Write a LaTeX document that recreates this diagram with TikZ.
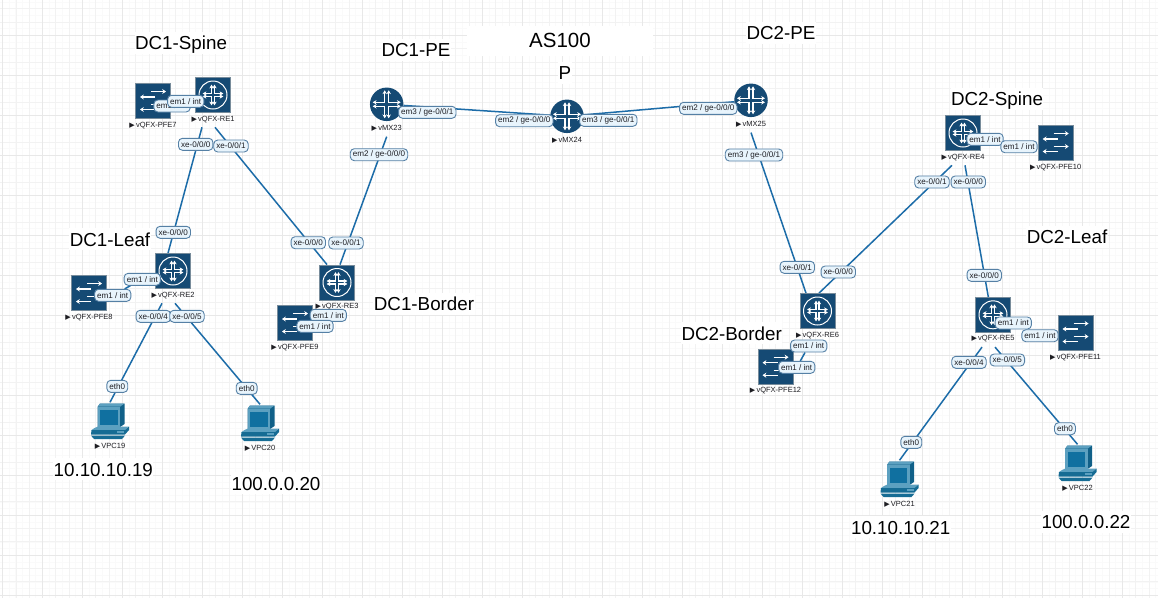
\documentclass[tikz,border=0pt]{standalone}
\usepackage{fontspec}
\setmainfont{Liberation Sans}
\newfontfamily\symbolfont{DejaVu Sans}
\usepackage{tikz}
\usetikzlibrary{
    arrows.meta,
    positioning,
    backgrounds
}
\pgfdeclarelayer{links}
\pgfsetlayers{background,links,main}
\definecolor{ink}{RGB}{30,30,35}
\definecolor{junos}{RGB}{21,74,116}
\definecolor{junosedge}{RGB}{120,140,155}
\definecolor{wire}{RGB}{28,108,168}
\definecolor{tagfill}{RGB}{232,244,252}
\definecolor{tagedge}{RGB}{85,128,165}
\definecolor{pcbody}{RGB}{22,108,148}
\definecolor{pcdark}{RGB}{16,96,136}
\definecolor{pcscreen}{RGB}{16,112,160}
\definecolor{pcframe}{RGB}{92,160,192}
\definecolor{gridlow}{RGB}{250,250,250}
\definecolor{gridmid}{RGB}{242,242,242}
\definecolor{gridtop}{RGB}{232,232,232}
\newcommand{\runmark}{{\symbolfont\fontsize{7}{8}\selectfont\char"25B6}\,}
\tikzset{
    % four elbows with a tip on both ends, used on all router icons
    crossglyph/.pic={
        \foreach \r in {0,90,180,270}
            \draw[rotate=\r, white, line width=1.2pt, {Stealth[length=3.8pt,width=4.4pt]}-{Stealth[length=3.8pt,width=4.4pt]}]
                (14,2) -- (2,2) -- (2,14);
    },
    switchglyph/.pic={
        \draw[white, line width=1.2pt, -{Stealth[length=3.8pt,width=5pt]}] (-2,-9.5) -- (13,-9.5);
        \draw[white, line width=1.2pt, -{Stealth[length=3.8pt,width=5pt]}] (2,-4) -- (-13,-4);
        \draw[white, line width=1.2pt, -{Stealth[length=3.8pt,width=5pt]}] (-2,3.5) -- (13,3.5);
        \draw[white, line width=1.2pt, -{Stealth[length=3.8pt,width=5pt]}] (2,8.5) -- (-13,8.5);
    },
    pcglyph/.pic={
        \fill[pcdark] (-12.3,-14.3) -- (-10,-17.5) -- (14.5,-17.5) -- (14.5,3) -- (10,6) -- (-12.3,6) -- cycle;
        \fill[pcframe] (-12.3,-14.3) -- (-10,-17.5) -- (14.5,-17.5) -- (10,-14.3) -- cycle;
        \fill[pcframe] (-12.3,-14.3) rectangle (10,6);
        \fill[pcscreen] (-10,-11.5) rectangle (7.5,3.5);
        \fill[pcframe] (-15.5,7) -- (-12,5.5) -- (18.5,5.5) -- (15,9) -- (-18.5,9) -- cycle;
        \fill[pcbody] (-18.5,9) -- (15,9) -- (19,5.5) -- (19,9) -- (15,13.5) -- (-19,13.5) -- cycle;
        \fill[pcframe] (7,10.2) rectangle (14,11.6);
        \fill[pcbody] (-19,14.6) -- (15,14.6) -- (12,18) -- (-16,18) -- cycle;
    },
    qfxrouter/.style={
        rectangle,
        draw=junosedge,
        line width=0.8pt,
        fill=junos,
        minimum size=35pt,
        inner sep=0pt,
        path picture={
            \draw[white, line width=1pt] (path picture bounding box.center) circle (14);
            \pic[scale=0.74] at (path picture bounding box.center) {crossglyph};
        }
    },
    qfxswitch/.style={
        rectangle,
        draw=junosedge,
        line width=0.8pt,
        fill=junos,
        minimum size=35pt,
        inner sep=0pt,
        path picture={
            \pic at (path picture bounding box.center) {switchglyph};
        }
    },
    mxrouter/.style={
        circle,
        fill=junos,
        minimum size=33.5pt,
        inner sep=0pt,
        path picture={
            \pic at (path picture bounding box.center) {crossglyph};
        }
    },
    vpcbox/.style={
        rectangle,
        minimum width=39pt,
        minimum height=37pt,
        inner sep=0pt,
        path picture={
            \pic at (path picture bounding box.center) {pcglyph};
        }
    },
    devname/.style={
        font=\fontsize{7.5}{9}\selectfont,
        text=ink,
        minimum height=16pt,
        inner sep=0pt
    },
    iftag/.style={
        rectangle,
        rounded corners=4pt,
        draw=tagedge,
        line width=0.9pt,
        fill=tagfill,
        text=ink,
        font=\fontsize{8.1}{9}\selectfont,
        minimum height=12pt,
        inner xsep=2.6pt,
        inner ysep=0pt
    },
    note/.style={
        font=\fontsize{18.8}{21}\selectfont,
        text=black,
        fill=white,
        text height=13.5pt,
        text depth=0pt,
        minimum height=22pt,
        inner sep=0.5pt
    },
    link/.style={
        draw=wire,
        line width=1.5pt
    }
}
\begin{document}
\begin{tikzpicture}[x=1pt, y=-1pt]
\useasboundingbox (0,0) rectangle (1158,598);

% Editor grid, three weights
\begin{pgfonlayer}{background}
    \fill[white] (0,0) rectangle (1158,598);
    \foreach \x in {2.667,9.333,...,1158} \draw[gridlow, line width=1pt] (\x,0) -- (\x,598);
    \foreach \y in {2,8.667,...,598} \draw[gridlow, line width=1pt] (0,\y) -- (1158,\y);
    \foreach \x in {2.667,16,...,1158} \draw[gridmid, line width=1pt] (\x,0) -- (\x,598);
    \foreach \y in {8.667,22,...,598} \draw[gridmid, line width=1pt] (0,\y) -- (1158,\y);
    \foreach \x in {2.667,42.667,...,1158} \draw[gridtop, line width=1pt] (\x,0) -- (\x,598);
    \foreach \y in {35.333,75.333,...,598} \draw[gridtop, line width=1pt] (0,\y) -- (1158,\y);
\end{pgfonlayer}

% Text notes
\node[note] (dc1spine) at (181,43) {DC1-Spine};
\node[note] (dc1pe) at (416,49.5) {DC1-PE};
\node[note, minimum width=186pt, minimum height=30pt, font=\fontsize{20.5}{22}\selectfont] (as100) at (560,41) {AS100};
\node[note] (pnote) at (565,72.7) {P};
\node[note] (dc2pe) at (781,33) {DC2-PE};
\node[note] (dc2spine) at (997,99) {DC2-Spine};
\node[note] (dc1leaf) at (110,239.3) {DC1-Leaf};
\node[note] (dc2leaf) at (1067,237) {DC2-Leaf};
\node[note] (dc1border) at (424,304) {DC1-Border};
\node[note] (dc2border) at (731.7,333.3) {DC2-Border};
\node[note] (ip19) at (103.3,469.3) {10.10.10.19};
\node[note] (ip20) at (276,483.3) {100.0.0.20};
\node[note] (ip21) at (900.7,527.3) {10.10.10.21};
\node[note] (ip22) at (1086,521.7) {100.0.0.22};

% Devices
\node[qfxswitch] (pfe7) at (153,101) {};
\node[qfxrouter] (re1) at (213,95) {};
\node[qfxrouter] (re2) at (173,271) {};
\node[qfxswitch] (pfe8) at (89,293) {};
\node[qfxrouter] (re3) at (337,282.5) {};
\node[devname, below=-2pt of re3] (re3name) {\runmark vQFX-RE3};
\node[qfxswitch] (pfe9) at (295,323) {};
\node[mxrouter] (mx23) at (386.7,104.3) {};
\node[mxrouter] (mx24) at (567,116.3) {};
\node[mxrouter] (mx25) at (751,100.3) {};
\node[qfxrouter] (re4) at (963,133) {};
\node[qfxswitch] (pfe10) at (1055.7,143) {};
\node[qfxrouter] (re6) at (817.5,311) {};
\node[qfxswitch] (pfe12) at (775.5,366.7) {};
\node[qfxrouter] (re5) at (993,314.8) {};
\node[qfxswitch] (pfe11) at (1075.5,333) {};
\node[vpcbox] (vpc19) at (110,421) {};
\node[vpcbox] (vpc20) at (260,423) {};
\node[vpcbox] (vpc21) at (899.5,479) {};
\node[vpcbox] (vpc22) at (1077.5,463) {};

% Device names
\node[devname, below=-2pt of pfe7] (pfe7name) {\runmark vQFX-PFE7};
\node[devname, below=-2pt of re1] (re1name) {\runmark vQFX-RE1};
\node[devname, below=-2pt of re2] (re2name) {\runmark vQFX-RE2};
\node[devname, below=-2pt of pfe8] (pfe8name) {\runmark vQFX-PFE8};
\node[devname, below=-2pt of pfe9] (pfe9name) {\runmark vQFX-PFE9};
\node[devname, below=-1pt of mx23] (mx23name) {\runmark vMX23};
\node[devname, below=-1pt of mx24] (mx24name) {\runmark vMX24};
\node[devname, below=-1pt of mx25] (mx25name) {\runmark vMX25};
\node[devname, below=-2pt of re4] (re4name) {\runmark vQFX-RE4};
\node[devname, below=-2pt of pfe10] (pfe10name) {\runmark vQFX-PFE10};
\node[devname, below=-2pt of re6] (re6name) {\runmark vQFX-RE6};
\node[devname, below=-2pt of pfe12] (pfe12name) {\runmark vQFX-PFE12};
\node[devname, below=-2pt of re5] (re5name) {\runmark vQFX-RE5};
\node[devname, below=-2pt of pfe11] (pfe11name) {\runmark vQFX-PFE11};
\node[devname, below=-1.5pt of vpc19] (vpc19name) {\runmark VPC19};
\node[devname, below=-1.5pt of vpc20] (vpc20name) {\runmark VPC20};
\node[devname, below=-1.5pt of vpc21] (vpc21name) {\runmark VPC21};
\node[devname, below=-1.5pt of vpc22] (vpc22name) {\runmark VPC22};

% Interface tags
\node[iftag] (pfe7em) at (172,106) {em1 / int};
\node[iftag] (re1em) at (185.7,101.3) {em1 / int};
\node[iftag] (re1xe0) at (195.7,144.3) {xe-0/0/0};
\node[iftag] (re1xe1) at (231,146) {xe-0/0/1};
\node[iftag] (re2xe0) at (173.3,232.3) {xe-0/0/0};
\node[iftag] (re2em) at (142.3,279.3) {em1 / int};
\node[iftag] (pfe8em) at (112.7,295.3) {em1 / int};
\node[iftag] (re2xe4) at (153.3,316.3) {xe-0/0/4};
\node[iftag] (re2xe5) at (187,316.3) {xe-0/0/5};
\node[iftag] (vpc19eth) at (117.3,386.3) {eth0};
\node[iftag] (vpc20eth) at (246.7,388.3) {eth0};
\node[iftag] (re3xe0) at (308.3,242.7) {xe-0/0/0};
\node[iftag] (re3xe1) at (346,243) {xe-0/0/1};
\node[iftag] (re3em) at (328.3,315.3) {em1 / int};
\node[iftag] (pfe9em) at (315,326.3) {em1 / int};
\node[iftag] (mx23em3) at (427.3,112.3) {em3 / ge-0/0/1};
\node[iftag] (mx23em2) at (379,154.7) {em2 / ge-0/0/0};
\node[iftag] (mx24em2) at (524.3,120.7) {em2 / ge-0/0/0};
\node[iftag] (mx24em3) at (608.3,120.3) {em3 / ge-0/0/1};
\node[iftag] (mx25em2) at (708.3,108.3) {em2 / ge-0/0/0};
\node[iftag] (mx25em3) at (754,155) {em3 / ge-0/0/1};
\node[iftag] (re4em) at (985,139.3) {em1 / int};
\node[iftag] (pfe10em) at (1019,146.7) {em1 / int};
\node[iftag] (re4xe1) at (932,182) {xe-0/0/1};
\node[iftag] (re4xe0) at (968.3,182) {xe-0/0/0};
\node[iftag] (re6xe1) at (797.3,267.3) {xe-0/0/1};
\node[iftag] (re6xe0) at (838.3,272) {xe-0/0/0};
\node[iftag] (re6em) at (808.7,346) {em1 / int};
\node[iftag] (pfe12em) at (796.7,367.3) {em1 / int};
\node[iftag] (re5xe0) at (984.3,275.3) {xe-0/0/0};
\node[iftag] (re5em) at (1013.3,323) {em1 / int};
\node[iftag] (pfe11em) at (1040,335.7) {em1 / int};
\node[iftag] (re5xe4) at (969,362.3) {xe-0/0/4};
\node[iftag] (re5xe5) at (1007.3,360) {xe-0/0/5};
\node[iftag] (vpc21eth) at (911.3,442.3) {eth0};
\node[iftag] (vpc22eth) at (1065,428.7) {eth0};

% Links, under the devices
\begin{pgfonlayer}{links}
    \draw[link] (pfe7em) -- (re1em);
    \draw[link] (pfe8em) -- (re2em);
    \draw[link] (pfe9em) -- (re3em);
    \draw[link] (pfe10em) -- (re4em);
    \draw[link] (pfe11em) -- (re5em);
    \draw[link] (pfe12em) -- (re6em);
    \draw[link] ([xshift=-11pt]re1name.south) -- ([xshift=-5pt]re2.north);
    \draw[link] ([xshift=2pt]re1name.south) -- ([xshift=-10pt]re3.north);
    \draw[link] ([xshift=-11pt]re2name.south) -- (vpc19.north);
    \draw[link] ([xshift=2pt]re2name.south) -- (vpc20.north);
    \draw[link] (mx23name.south) -- ([xshift=3pt]re3.north);
    \draw[link] (mx23) -- (mx24);
    \draw[link] (mx24) -- (mx25);
    \draw[link] (mx25name.south) -- ([xshift=-11.5pt]re6.north);
    \draw[link] ([xshift=-11pt]re4name.south) -- ([xshift=1.5pt]re6.north);
    \draw[link] ([xshift=2pt]re4name.south) -- ([xshift=-4.7pt]re5.north);
    \draw[link] ([xshift=-11pt]re5name.south) -- (vpc21.north);
    \draw[link] ([xshift=2pt]re5name.south) -- (vpc22.north);
\end{pgfonlayer}
\end{tikzpicture}
\end{document}
